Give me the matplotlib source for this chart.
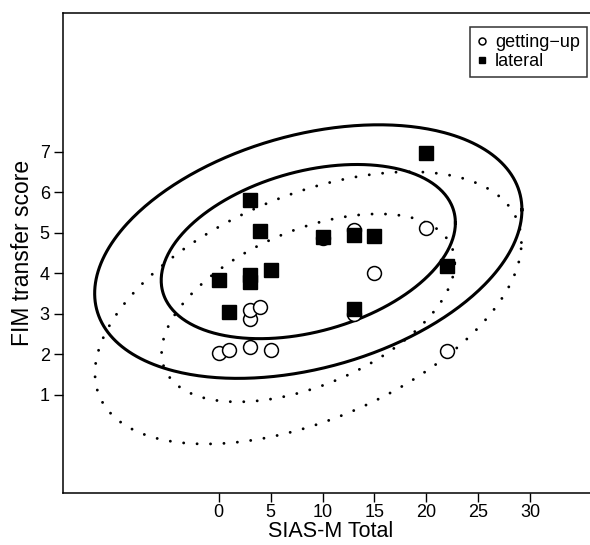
import numpy as np
import matplotlib
matplotlib.use("Agg")
import matplotlib.pyplot as plt
from matplotlib.lines import Line2D

plt.rcParams['font.family'] = ['Liberation Sans', 'DejaVu Sans']

# SIAS-M total (same patients for both tasks)
sias_getup = [0, 1, 3, 5, 3, 3, 4, 10, 13, 20, 15, 13, 22]
fim_getup = [2.03, 2.11, 2.19, 2.12, 2.88, 3.09, 3.17, 4.88, 5.07, 5.11, 4.02, 2.99, 2.09]

sias_lateral = [3, 4, 0, 3, 3, 5, 1, 10, 13, 15, 20, 22, 13]
fim_lateral = [5.81, 5.05, 3.85, 3.96, 3.79, 4.08, 3.05, 4.90, 4.95, 4.92, 6.98, 4.19, 3.12]

# ellipses: centre, (half-width, half-height) per ring, correlation
ell_lateral_center = (8.63, 4.54)
ell_lateral_half = [(20.58, 3.13), (14.17, 2.15)]
ell_lateral_rho = 0.33

ell_getup_center = (8.62, 3.15)
ell_getup_half = [(20.54, 3.36), (14.12, 2.32)]
ell_getup_rho = 0.48

xticks = [0, 5, 10, 15, 20, 25, 30]
yticks = [1, 2, 3, 4, 5, 6, 7]


def ellipse(center, half, rho, n=400):
    t = np.linspace(0, 2 * np.pi, n)
    a, b = half
    x = center[0] + a * np.cos(t)
    y = center[1] + b * (rho * np.cos(t) + np.sqrt(1 - rho ** 2) * np.sin(t))
    return x, y


fig = plt.figure(figsize=(5.9, 5.45), dpi=100)
ax = fig.add_axes([63 / 590, 1 - 493 / 545, 534.6 / 590, 480 / 545])

for h in ell_lateral_half:
    x, y = ellipse(ell_lateral_center, h, ell_lateral_rho)
    ax.plot(x, y, color='black', lw=2.2)

for h in ell_getup_half:
    x, y = ellipse(ell_getup_center, h, ell_getup_rho)
    ax.plot(x, y, color='black', lw=2.1, linestyle=(0, (0.01, 4.6)),
            dash_capstyle='round')

ax.plot(sias_getup, fim_getup, 'o', ms=10, mfc='white', mec='black', mew=1.1)
ax.plot(sias_lateral, fim_lateral, 's', ms=9.7, mfc='black', mec='black')

ax.set_xlim(-15, 36.5)
ax.set_ylim(-1.42, 10.43)
ax.set_xticks(xticks)
ax.set_yticks(yticks)
ax.tick_params(direction='out', length=6.5, width=1, labelsize=13, pad=3)
ax.tick_params(axis='x', pad=1.5)
for s in ax.spines.values():
    s.set_linewidth(1.1)

ax.set_xlabel('SIAS-M Total', fontsize=15.5, labelpad=0)
ax.set_ylabel('FIM transfer score', fontsize=16.5, labelpad=4)

handles = [
    Line2D([], [], marker='o', ls='none', ms=5, mfc='white', mec='black', mew=1.1),
    Line2D([], [], marker='s', ls='none', ms=5, mfc='black', mec='black'),
]
leg = ax.legend(handles, ['getting\u2212up', 'lateral'], loc='upper right',
                bbox_to_anchor=(587 / 590, 1 - 27 / 545), bbox_transform=fig.transFigure,
                fontsize=13, frameon=True, fancybox=False, edgecolor='black',
                handlelength=0.6, handletextpad=0.4, borderpad=0.4,
                labelspacing=0.1, borderaxespad=0)
leg.get_frame().set_linewidth(1.1)

fig.savefig('out.png', dpi=100)
